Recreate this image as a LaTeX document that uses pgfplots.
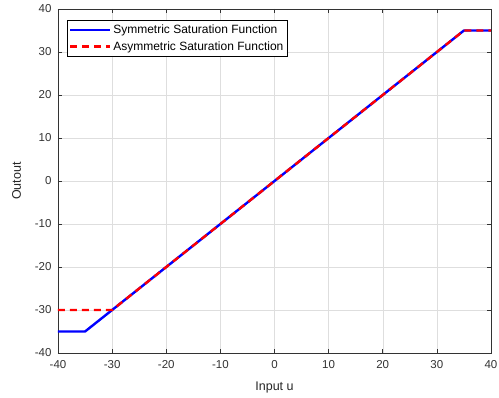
\documentclass[border=0pt]{standalone}
\usepackage{pgfplots}
\pgfplotsset{compat=1.18}
\usepackage{fontspec}
\setmainfont{Liberation Sans}
\begin{document}
\begin{tikzpicture}
\path[use as bounding box] (-58pt,-45pt) rectangle (441pt,353pt);
\begin{axis}[
  at={(0,0)}, anchor=south west,
  scale only axis, width=433pt, height=344pt,
  xmin=-40, xmax=40, ymin=-40, ymax=40,
  xtick={-40,-30,...,40}, ytick={-40,-30,...,40},
  /pgf/number format/assume math mode=true,
  tick label style={font=\fontsize{11.5}{13}\selectfont, color=black!80},
  xticklabel style={yshift=-4pt},
  yticklabel style={xshift=-3pt},
  tick align=inside, major tick length=4pt,
  tick style={black!80, line width=0.5pt},
  axis line style={black!80, line width=0.6pt},
  grid=major, grid style={black!13, line width=0.4pt},
  xlabel={Input u}, ylabel={Outout},
  label style={font=\fontsize{12.5}{14}\selectfont, color=black!85},
  xlabel style={yshift=-6pt},
  ylabel style={yshift=7pt},
  legend style={at={(rel axis cs:0.02,0.968)}, anchor=north west, font=\fontsize{12}{14}\selectfont, draw=black, line width=0.5pt, inner xsep=2pt, inner ysep=2.5pt, row sep=2.5pt, cells={anchor=west}},
  legend cell align=left,
  legend image code/.code={\draw[#1] (0pt,0pt) -- (40pt,0pt);},
]
\addplot[blue, line width=2.4pt] coordinates {(-40,-35) (-35,-35) (35,35) (40,35)};
\addlegendentry{Symmetric Saturation Function}
\addplot[red, line width=2.4pt, dash pattern=on 7pt off 5pt] coordinates {(-40,-30) (-30,-30) (35,35) (40,35)};
\addlegendentry{Asymmetric Saturation Function}
\end{axis}
\end{tikzpicture}
\end{document}
